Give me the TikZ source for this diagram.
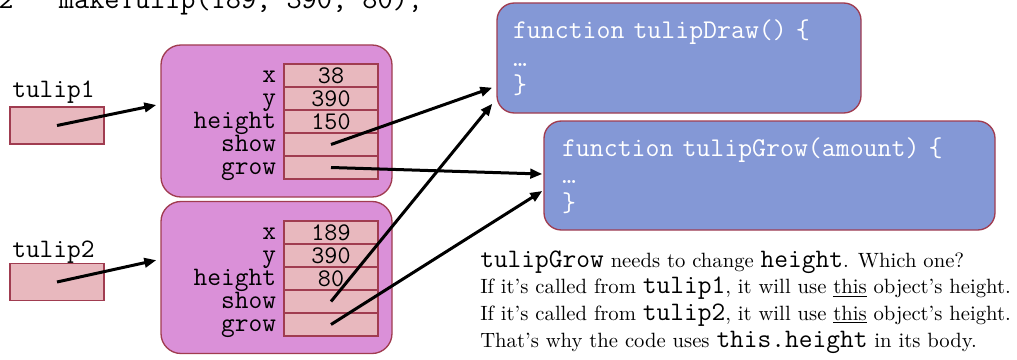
\documentclass[tikz,border=0pt]{standalone}
\usepackage{fontspec}
\usepackage{tikz}
\usetikzlibrary{arrows.meta,positioning}
\newfontfamily\notefont{lmroman10-regular.otf}
\definecolor{objfill}{RGB}{218,144,216}
\definecolor{slotfill}{RGB}{232,184,190}
\definecolor{funfill}{RGB}{132,152,214}
\definecolor{boxline}{RGB}{160,60,80}
\newcommand{\cw}[1]{{\fontsize{20}{20}\selectfont\ttfamily #1}}
\tikzset{
  objbox/.style={ draw=boxline, fill=objfill, line width=1pt, rounded corners=15pt, minimum width=173.25pt, minimum height=114pt, inner sep=0pt }
}
\tikzset{
  slot/.style={ draw=boxline, fill=slotfill, line width=1pt, minimum width=70.5pt, minimum height=17.25pt, inner sep=0pt, font=\fontsize{19}{19}\selectfont\ttfamily }
}
\tikzset{
  varbox/.style={ slot, minimum height=27.75pt }
}
\tikzset{
  slotname/.style={ inner sep=0pt, font=\fontsize{20}{20}\selectfont\ttfamily }
}
\tikzset{
  funbox/.style={ draw=boxline, fill=funfill, line width=1pt, rounded corners=13pt, align=left, text=white, font=\fontsize{20.3}{20.6}\selectfont\ttfamily }
}
\tikzset{
  note/.style={ inner sep=0pt, font=\fontsize{15.5}{18}\notefont }
}
\tikzset{
  ptr/.style={ line width=2.25pt, -{Triangle[length=9pt,width=7pt]} }
}

\begin{document}
\begin{tikzpicture}[x=0.75pt, y=-0.75pt]
  \useasboundingbox (0,0) rectangle (1017,360);
  \node[slotname, font=\fontsize{22.1}{22}\selectfont\ttfamily, anchor=base west] (call) at (-2,8.5) {2\ \ \ makeTulip(189, 390, 80);};
  % variables
  \node[varbox] (var1) at (57,125.5) {};
  \node[slotname, anchor=base west] (name1) at (12,98) {tulip1};
  \node[varbox] (var2) at (57,282) {};
  \node[slotname, anchor=base west] (name2) at (12,257) {tulip2};
  % objects
  \node[objbox] (obj1) at (276.5,121) {};
  \node[objbox] (obj2) at (276.5,277.5) {};
  \foreach \obj/\rowy/\vx/\vy/\vh in {1/75.5/38/390/150, 2/232.5/189/390/80} {
    \foreach \f/\v [count=\i from 0] in {x/\vx, y/\vy, height/\vh, show/{}, grow/{}} {
      \node[slot] (o\obj\f) at (331,\rowy+23*\i) {\v};
      \node[slotname, anchor=base east] (n\obj\f) at ([xshift=-5.25pt,yshift=-4.9pt]o\obj\f.west) {\f};
    }
  }
  % functions
  \node[funbox, minimum width=273pt, minimum height=82.5pt, inner xsep=12pt, text width=249pt] (fdraw) at (679,58) {function tulipDraw() \{\\…\\\}};
  \node[funbox, minimum width=338.25pt, minimum height=81.75pt, inner xsep=13.5pt, text width=311.25pt] (fgrow) at (769.5,175.5) {function tulipGrow(amount) \{\\…\\\}};
  % pointers
  \draw[ptr] (var1.center) -- ([xshift=-3pt,yshift=12pt]obj1.west);
  \draw[ptr] (var2.center) -- ([xshift=-3pt,yshift=13pt]obj2.west);
  \draw[ptr] (o1show.center) -- ([xshift=-3pt,yshift=19.5pt]fdraw.south west);
  \draw[ptr] (o1grow.center) -- ([xshift=-0.75pt,yshift=1.1pt]fgrow.west);
  \draw[ptr] (o2show.center) -- ([xshift=-3pt,yshift=7.5pt]fdraw.south west);
  \draw[ptr] (o2grow.center) -- ([xshift=-0.75pt,yshift=-11.6pt]fgrow.west);
  % explanation
  \node[note, anchor=base west] (line1) at (480,267) {\cw{tulipGrow} needs to change \cw{height}. Which one?};
  \node[note, anchor=base west] (line2) at (480,293.7) {If it’s called from \cw{tulip1}, it will use \underline{this} object’s height.};
  \node[note, anchor=base west] (line3) at (480,320.4) {If it’s called from \cw{tulip2}, it will use \underline{this} object’s height.};
  \node[note, anchor=base west] (line4) at (480,347) {That’s why the code uses \cw{this.height} in its body.};
\end{tikzpicture}
\end{document}
